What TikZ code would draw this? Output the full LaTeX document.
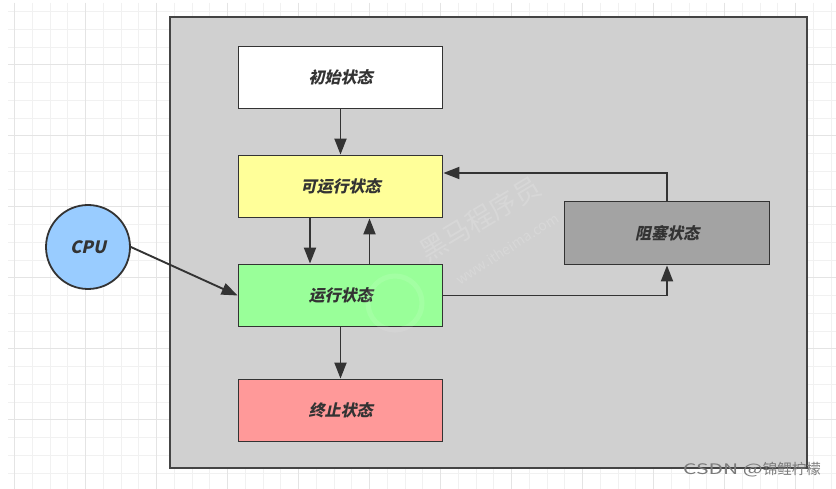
\documentclass[tikz,border=0pt]{standalone}
\usepackage{fontspec}
\newfontfamily\cjk{Noto Sans CJK SC}[FakeSlant=0.22]
\newfontfamily\cjkplain{Noto Sans CJK SC}
\usetikzlibrary{arrows.meta,calc}
\definecolor{linedark}{HTML}{333333}
\definecolor{outerfill}{HTML}{D0D0D0}
\definecolor{outerline}{HTML}{444444}
\definecolor{gridminor}{HTML}{F1F1F1}
\definecolor{gridmajor}{HTML}{E4E4E4}
\definecolor{initfill}{HTML}{FFFFFF}
\definecolor{readyfill}{HTML}{FFFF99}
\definecolor{runfill}{HTML}{99FF99}
\definecolor{termfill}{HTML}{FF9999}
\definecolor{blockfill}{HTML}{A3A3A3}
\definecolor{cpufill}{HTML}{99CCFF}
\definecolor{wmgray}{HTML}{7A7A7A}
\tikzset{
  statebox/.style={draw=linedark, line width=1.8pt, minimum width=204pt, minimum height=62pt,
    inner sep=0pt, text=linedark, font=\cjk\bfseries\fontsize{16}{16}\selectfont},
  cpustyle/.style={circle, draw=linedark, line width=1.8pt, fill=cpufill, minimum size=84pt,
    inner sep=0pt, text=linedark, font=\cjk\bfseries\fontsize{17}{17}\selectfont},
  arr/.style={draw=linedark, line width=1.9pt, -{Triangle[length=16pt,width=12pt]}},
  gline/.style={draw=gridminor, line width=0.8pt},
  gmaj/.style={draw=gridmajor, line width=0.8pt},
  wm/.style={text=white, text opacity=0.16, inner sep=0pt},
}
\begin{document}
\begin{tikzpicture}[x=1pt,y=-1pt]
\useasboundingbox (0,0) rectangle (836,489);
\fill[white] (0,0) rectangle (836,489);
% grid
\foreach \i in {0,...,46} { \draw[gline] ({14.5+17.75*\i},3) -- ({14.5+17.75*\i},489); }
\foreach \j in {0,...,26} { \draw[gline] (8,{11.5+17.75*\j}) -- (836,{11.5+17.75*\j}); }
\foreach \i in {-1,...,10} { \draw[gmaj] ({85.5+71*\i},3) -- ({85.5+71*\i},489); }
\foreach \j in {0,...,5} { \draw[gmaj] (8,{64.75+71*\j}) -- (836,{64.75+71*\j}); }
% outer container
\draw[draw=outerline, fill=outerfill, line width=2.2pt] (170,17) rectangle (807,468);
% watermark
\node[wm, rotate=31, font=\cjkplain\fontsize{27}{27}\selectfont] (wmcn) at (480,219) {黑马程序员};
\node[wm, rotate=33, font=\cjkplain\fontsize{14}{14}\selectfont] (wmen) at (507,249) {www.itheima.com};
% nodes
\node[statebox, fill=initfill] (init) at (340.5,77.5) {初始状态};
\node[statebox, fill=readyfill] (ready) at (340.5,186.5) {可运行状态};
\node[statebox, fill=runfill] (run) at (340.5,295.5) {运行状态};
\node[statebox, fill=termfill] (term) at (340.5,410.5) {终止状态};
\node[statebox, fill=blockfill, minimum width=205pt, minimum height=63pt] (block) at (667,233) {阻塞状态};
\node[cpustyle] (cpu) at (88,247) {CPU};
% watermark logo ring
\draw[white, opacity=0.1, line width=5pt] (395,303) circle (27);
% connectors
\draw[arr] (init.south) -- (ready.north);
\draw[arr] ([xshift=-30.5pt]ready.south) -- ([xshift=-30.5pt]run.north);
\draw[arr] ([xshift=29pt]run.north) -- ([xshift=29pt]ready.south);
\draw[arr] (run.south) -- (term.north);
\draw[arr] (cpu.east) -- (run.west);
\draw[arr] (run.east) -| (block.south);
\draw[arr] (block.north) |- ([yshift=13.5pt]ready.east);
% CSDN mark
\node[text=wmgray, inner sep=0pt, anchor=east, font=\cjkplain\fontsize{14.5}{14.5}\selectfont] (csdn) at (821,470)
  {\scalebox{1.45}[1]{CSDN @}锦鲤柠檬};
\end{tikzpicture}
\end{document}
